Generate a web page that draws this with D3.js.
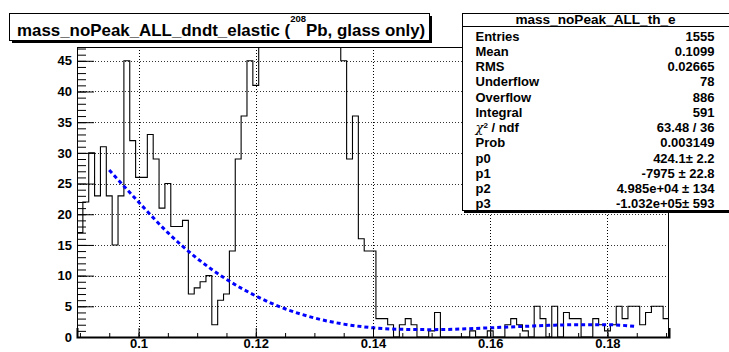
<!DOCTYPE html>
<html>
<head>
<meta charset="utf-8">
<script src="https://cdn.jsdelivr.net/npm/d3@7"></script>
<style>
  body { margin: 0; background: #fff; }
  svg { display: block; font-family: "Liberation Sans", Arial, Helvetica, sans-serif; font-weight: bold; }
</style>
</head>
<body>
<svg id="chart" width="729" height="352"></svg>
<script>
// histogram: 101 bins of 0.001, centred on 0.090 ... 0.190
const binLow = 0.0895;
const binWidth = 0.001;
const counts = [
  17, 22, 30, 23, 31, 23, 15, 23, 45, 32,
  26, 26, 33, 29, 21, 25, 18, 18, 19, 7,
  8, 9, 10, 2, 6, 7, 14, 29, 36, 45,
  41, 58, 75, 96, 118, 134, 146, 150, 141, 128,
  110, 92, 74, 60, 50, 45, 29, 36, 16, 14,
  14, 3, 3, 2, 0, 2, 3, 2, 0, 0,
  1, 4, 0, 0, 0, 0, 0, 1, 0, 0,
  1, 0, 0, 2, 3, 2, 1, 0, 5, 3,
  0, 5, 0, 4, 3, 3, 0, 0, 3, 2,
  1, 2, 5, 3, 5, 5, 2, 4, 5, 5,
  3
];

// fitted pol3
const fitX = [0.095, 0.100, 0.105, 0.110, 0.115, 0.120, 0.125, 0.130, 0.135, 0.140,
              0.145, 0.150, 0.155, 0.160, 0.165, 0.170, 0.175, 0.180, 0.185];
const fitY = [27.2, 22.0, 17.0, 12.8, 9.4, 6.7, 4.6, 3.1, 2.1, 1.5,
              1.25, 1.2, 1.3, 1.5, 1.7, 1.9, 2.0, 2.0, 1.7];

const xMajor = [0.10, 0.12, 0.14, 0.16, 0.18];
const xMajorLabels = ["0.1", "0.12", "0.14", "0.16", "0.18"];
const yMajor = [0, 5, 10, 15, 20, 25, 30, 35, 40, 45];

const titleMain = "mass_noPeak_ALL_dndt_elastic (";
const titleSup = "208";
const titleTail = "Pb, glass only)";

const statsTitle = "mass_noPeak_ALL_th_e";
const statsNames = ["Entries", "Mean", "RMS", "Underflow", "Overflow", "Integral", "chi", "Prob", "p0", "p1", "p2", "p3"];
const statsValues = ["1555", "0.1099", "0.02665", "78", "886", "591", "63.48 / 36", "0.003149",
                     "424.1\u00b1 2.2", "-7975 \u00b1 22.8", "4.985e+04 \u00b1 134", "-1.032e+05\u00b1 593"];

const svg = d3.select("#chart");
const frame = { left: 77, right: 669, top: 47, bottom: 337 };

const x = d3.scaleLinear().domain([binLow, binLow + counts.length * binWidth]).range([frame.left, frame.right]);
const y = d3.scaleLinear().domain([0, 47.25]).range([frame.bottom, frame.top]);

svg.append("defs").append("clipPath").attr("id", "clip")
  .append("rect")
  .attr("x", frame.left).attr("y", frame.top)
  .attr("width", frame.right - frame.left).attr("height", frame.bottom - frame.top);

// grid
const grid = svg.append("g").attr("shape-rendering", "crispEdges");
grid.selectAll(".gx").data(xMajor).enter().append("line")
  .attr("x1", d => Math.round(x(d)) + 0.5).attr("x2", d => Math.round(x(d)) + 0.5)
  .attr("y1", frame.top).attr("y2", frame.bottom)
  .attr("stroke", "#000").attr("stroke-dasharray", "1,2");
grid.selectAll(".gy").data(yMajor.slice(1)).enter().append("line")
  .attr("x1", frame.left).attr("x2", frame.right)
  .attr("y1", d => Math.round(y(d)) + 0.5).attr("y2", d => Math.round(y(d)) + 0.5)
  .attr("stroke", "#333").attr("stroke-dasharray", "1,2");

// histogram outline
const pts = [[x(binLow), y(0)]];
counts.forEach((c, i) => pts.push([x(binLow + i * binWidth), y(c)]));
pts.push([x(binLow + counts.length * binWidth), y(counts[counts.length - 1])]);
pts.push([x(binLow + counts.length * binWidth), y(0)]);

svg.append("path")
  .attr("clip-path", "url(#clip)")
  .attr("d", d3.line().curve(d3.curveStepAfter)(pts))
  .attr("fill", "none")
  .attr("stroke", "#000")
  .attr("stroke-width", 1.1);

// fit curve
const fitPts = fitX.map((d, i) => [x(d), y(fitY[i])]);
svg.append("path")
  .attr("d", d3.line().curve(d3.curveMonotoneX)(fitPts))
  .attr("fill", "none")
  .attr("stroke", "#0000ff")
  .attr("stroke-width", 3)
  .attr("stroke-dasharray", "4,3");

// frame
svg.append("rect")
  .attr("x", frame.left + 0.5).attr("y", frame.top + 0.5)
  .attr("width", frame.right - frame.left - 1).attr("height", frame.bottom - frame.top)
  .attr("fill", "none").attr("stroke", "#000").attr("stroke-width", 1);

// x axis
const xMinor = d3.range(0, 21).map(i => 0.09 + i * 0.005);
svg.append("g")
  .attr("transform", `translate(0,${frame.bottom})`)
  .call(d3.axisBottom(x).tickValues(xMinor).tickSize(-4).tickFormat(""))
  .call(g => g.select(".domain").remove());
const xAxis = svg.append("g")
  .attr("transform", `translate(0,${frame.bottom})`)
  .call(d3.axisBottom(x).tickValues(xMajor).tickSize(-9).tickPadding(2)
    .tickFormat((d, i) => xMajorLabels[i]));
xAxis.select(".domain").attr("stroke-width", 2);
xAxis.selectAll("text").attr("font-size", 13).attr("font-weight", "bold").attr("fill", "#000")
  .attr("font-family", "Liberation Sans, Arial, sans-serif");

// y axis
svg.append("g")
  .attr("transform", `translate(${frame.left},0)`)
  .call(d3.axisLeft(y).tickValues(d3.range(0, 48)).tickSize(-9).tickFormat(""))
  .call(g => g.select(".domain").remove());
const yAxis = svg.append("g")
  .attr("transform", `translate(${frame.left},0)`)
  .call(d3.axisLeft(y).tickValues(yMajor).tickSize(-17).tickPadding(5));
yAxis.select(".domain").remove();
yAxis.selectAll("text").attr("font-size", 13).attr("font-weight", "bold").attr("fill", "#000")
  .attr("font-family", "Liberation Sans, Arial, sans-serif");

// title box
svg.append("rect").attr("x", 12).attr("y", 16).attr("width", 420).attr("height", 27).attr("fill", "#000");
svg.append("rect").attr("x", 9.5).attr("y", 13.5).attr("width", 420).attr("height", 27)
  .attr("fill", "#fff").attr("stroke", "#000").attr("stroke-width", 1);
const tt = svg.append("text").attr("x", 17).attr("y", 35.5).attr("font-size", 16.9);
tt.append("tspan").text(titleMain);
tt.append("tspan").attr("font-size", 9.5).attr("dy", -13.5).text(titleSup);
tt.append("tspan").attr("dy", 13.5).text(titleTail);

// stats box
svg.append("rect").attr("x", 464).attr("y", 15).attr("width", 270).attr("height", 198).attr("fill", "#000");
svg.append("rect").attr("x", 462.5).attr("y", 13.5).attr("width", 270).attr("height", 197)
  .attr("fill", "#fff").attr("stroke", "#000").attr("stroke-width", 1);
svg.append("line").attr("x1", 462).attr("x2", 729).attr("y1", 26.5).attr("y2", 26.5)
  .attr("stroke", "#000");
svg.append("text").attr("x", 595.5).attr("y", 24).attr("text-anchor", "middle")
  .attr("font-size", 13.6).text(statsTitle);

const rowY = i => 40.5 + i * 15.27;
const rows = svg.append("g").attr("font-size", 13);
statsNames.forEach((n, i) => {
  const t = rows.append("text").attr("x", 475.5).attr("y", rowY(i));
  if (n === "chi") {
    t.append("tspan").attr("font-family", "DejaVu Serif, serif").attr("font-style", "italic").attr("font-weight", "normal").text("\u03c7");
    t.append("tspan").attr("font-size", 8).attr("dy", -4.5).text("2");
    t.append("tspan").attr("dy", 4.5).text(" / ndf");
  } else {
    t.text(n);
  }
  rows.append("text").attr("x", 714.5).attr("y", rowY(i)).attr("text-anchor", "end").text(statsValues[i]);
});
</script>
</body>
</html>
